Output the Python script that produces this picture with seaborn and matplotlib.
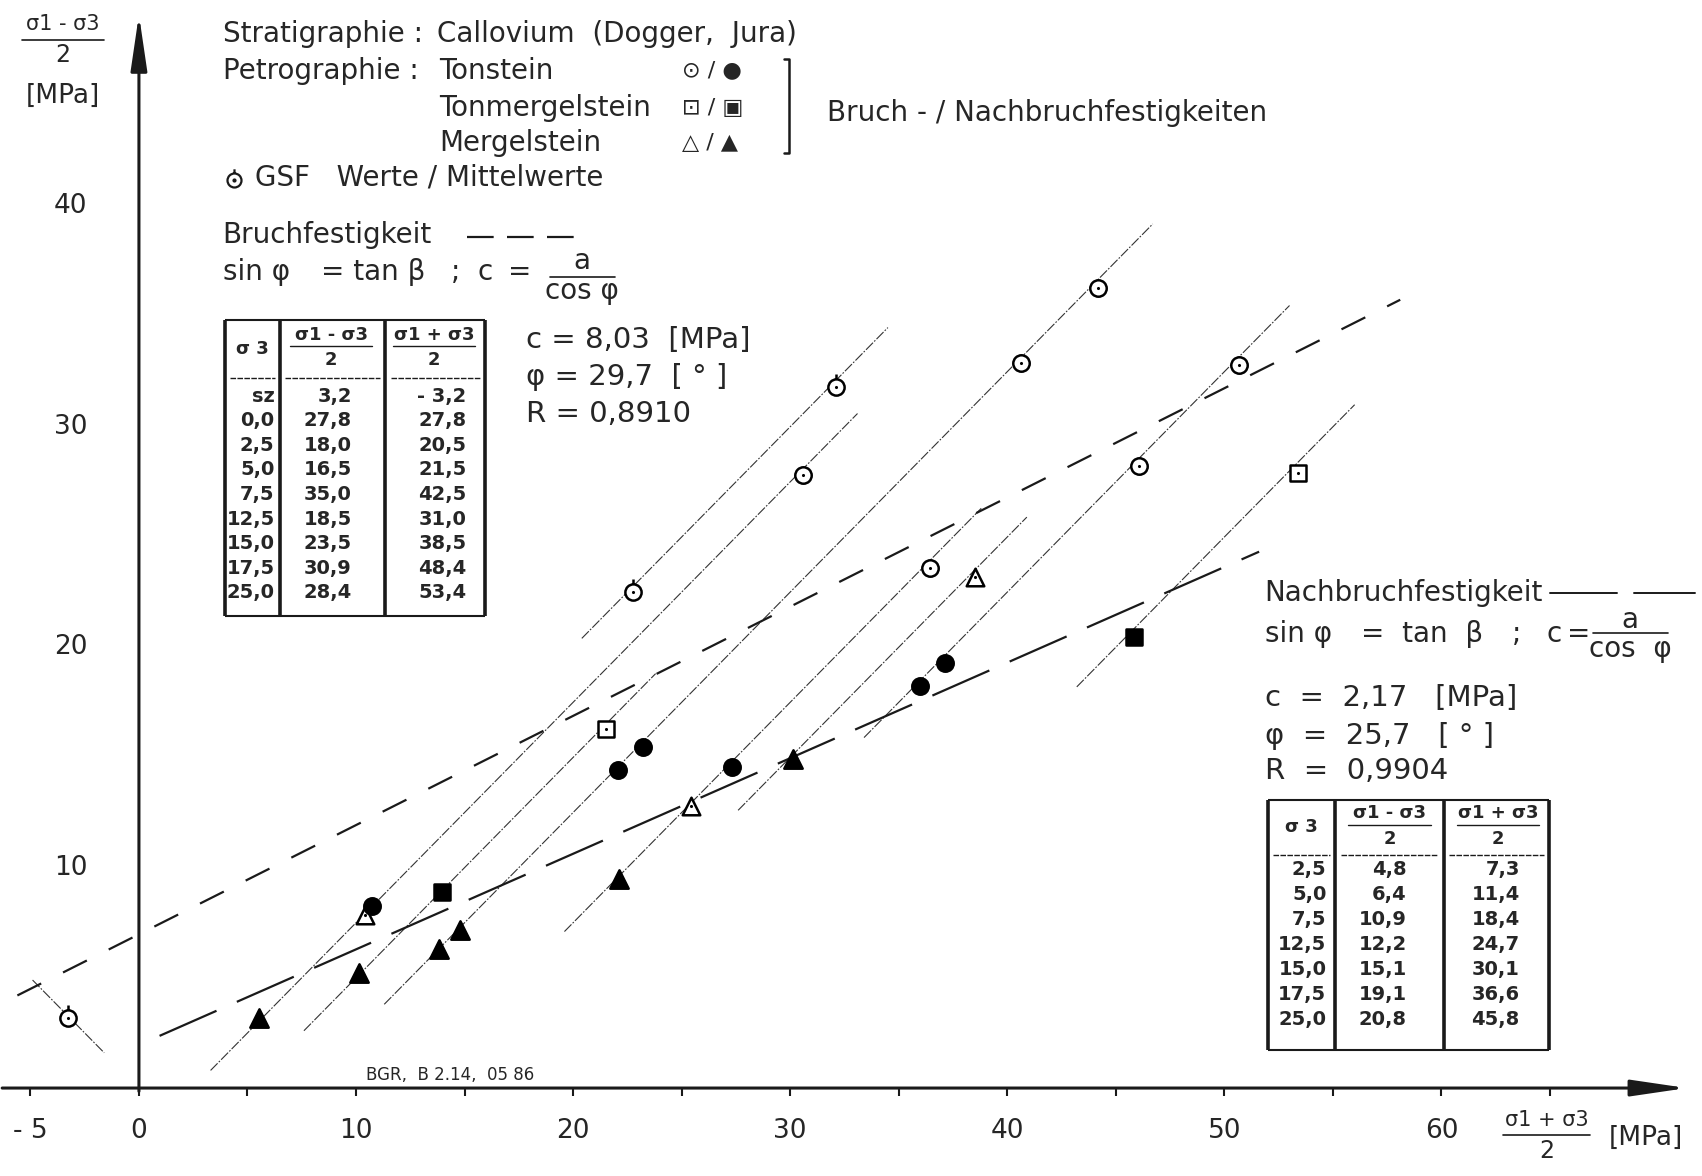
import numpy as np
import pandas as pd
import matplotlib
matplotlib.use('Agg')
import matplotlib.pyplot as plt
import seaborn as sns
from matplotlib.path import Path

# Messpunkte ((s1+s3)/2 , (s1-s3)/2)
ton_bruch_x = [30.6, 36.45, 40.65, 44.2, 46.05, 50.65]
ton_bruch_y = [27.8, 23.6, 32.9, 36.3, 28.2, 32.8]
gsf_x = [-3.25, 22.75, 32.1]
gsf_y = [3.2, 22.5, 31.8]
tmg_bruch_x = [21.5, 53.4]
tmg_bruch_y = [16.3, 27.9]
mg_bruch_x = [10.4, 25.45, 38.5]
mg_bruch_y = [7.85, 12.8, 23.2]
ton_nach_x = [10.75, 22.05, 23.2, 27.3, 36.0, 37.15]
ton_nach_y = [8.25, 14.45, 15.45, 14.55, 18.25, 19.3]
tmg_nach_x = [13.95, 45.85]
tmg_nach_y = [8.9, 20.45]
mg_nach_x = [5.55, 10.15, 13.8, 14.8, 22.1, 30.15]
mg_nach_y = [3.2, 5.2, 6.3, 7.15, 9.5, 14.95]

# sigma3 = konst. Linien (Steigung 1) und ihre Ausdehnung
sigma3_lines = [0.0, 2.5, 5.0, 7.5, 12.5, 15.0, 17.5, 25.0]
line_x_start = [20.4, 3.3, 7.6, 11.3, 19.6, 27.6, 33.4, 43.2]
line_x_end = [34.5, 33.1, 23.8, 46.7, 38.8, 40.9, 53.0, 56.0]
sz_x = [-4.9, -1.6]

# Ausgleichsgeraden
bruch_c, bruch_phi, bruch_R = 8.03, 29.7, 0.8910
bruch_xrange = [-5.6, 58.1]
nach_c, nach_phi, nach_R = 2.17, 25.7, 0.9904
nach_xrange = [0.95, 51.6]

# Tabellen
t1_s3 = ['sz', '0,0', '2,5', '5,0', '7,5', '12,5', '15,0', '17,5', '25,0']
t1_diff = [3.2, 27.8, 18.0, 16.5, 35.0, 18.5, 23.5, 30.9, 28.4]
t1_sum = [-3.2, 27.8, 20.5, 21.5, 42.5, 31.0, 38.5, 48.4, 53.4]
t2_s3 = ['2,5', '5,0', '7,5', '12,5', '15,0', '17,5', '25,0']
t2_diff = [4.8, 6.4, 10.9, 12.2, 15.1, 19.1, 20.8]
t2_sum = [7.3, 11.4, 18.4, 24.7, 30.1, 36.6, 45.8]

x_ticks = [-5, 0, 10, 20, 30, 40, 50, 60]
y_ticks = [10, 20, 30, 40]

sns.set_theme(style='white')
plt.rcParams['font.family'] = ['DejaVu Sans']


def de(v):
    return f'{v:.1f}'.replace('.', ',').replace('-', '- ')


fig = plt.figure(figsize=(17.02, 11.76), dpi=100)
ax = fig.add_axes([0, 0, 1, 1])
ax.set_xlim(-6.4, 72.0)
ax.set_ylim(-3.99, 49.36)
ax.axis('off')

# Achsen
arr = dict(arrowstyle='-|>,head_length=1.7,head_width=0.25', lw=2.2, color='k',
           mutation_scale=20, shrinkA=0, shrinkB=0)
ax.annotate('', xy=(71.3, 0), xytext=(-6.3, 0), arrowprops=arr)
ax.annotate('', xy=(0, 48.7), xytext=(0, -0.15), arrowprops=arr)
ax.vlines(np.arange(-5, 70, 5), -0.35, 0, color='k', lw=1.5)
for t in x_ticks:
    ax.text(t, -1.95, str(t).replace('-', '- '), ha='center', va='center', fontsize=19)
for t in y_ticks:
    ax.text(-3.15, t, str(t), ha='center', va='center', fontsize=19)

# Achsenbeschriftungen
ax.text(-3.5, 48.25, 'σ1 - σ3', ha='center', va='center', fontsize=15)
ax.plot([-5.4, -1.6], [47.55, 47.55], color='k', lw=1.2)
ax.text(-3.5, 46.85, '2', ha='center', va='center', fontsize=17)
ax.text(-3.5, 45.0, '[MPa]', ha='center', va='center', fontsize=19)
ax.text(64.85, -1.45, 'σ1 + σ3', ha='center', va='center', fontsize=15)
ax.plot([62.85, 66.85], [-2.12, -2.12], color='k', lw=1.2)
ax.text(64.85, -2.85, '2', ha='center', va='center', fontsize=17)
ax.text(69.4, -2.25, '[MPa]', ha='center', va='center', fontsize=19)

# sigma3-Linien
fine = dict(color='#333333', lw=0.8, dashes=(9, 1.5, 1.5, 1.5))
for s3, xa, xb in zip(sigma3_lines, line_x_start, line_x_end):
    xs = np.array([xa, xb])
    ax.plot(xs, xs - s3, **fine)
ax.plot(sz_x, [-v for v in sz_x], **fine)

# Bruch- und Nachbruchgerade
for c, phi, xr, dash in [(bruch_c, bruch_phi, bruch_xrange, (12, 11)),
                         (nach_c, nach_phi, nach_xrange, (28, 10))]:
    slope = np.sin(np.radians(phi))
    a = c * np.cos(np.radians(phi))
    xs = np.array(xr)
    ax.plot(xs, a + slope * xs, color='k', lw=1.6, dashes=dash)

# Punkte
gsf_marker = Path.make_compound_path(Path.unit_circle(),
                                     Path([(0, 1), (0, 1.6)], [Path.MOVETO, Path.LINETO]))
groups = [
    (ton_bruch_x, ton_bruch_y, 'o', 'white', 140, True),
    (gsf_x, gsf_y, gsf_marker, 'white', 350, True),
    (tmg_bruch_x, tmg_bruch_y, 's', 'white', 125, True),
    (mg_bruch_x, mg_bruch_y, '^', 'white', 160, True),
    (ton_nach_x, ton_nach_y, 'o', 'black', 140, False),
    (tmg_nach_x, tmg_nach_y, 's', 'black', 125, False),
    (mg_nach_x, mg_nach_y, '^', 'black', 175, False),
]
for gx, gy, m, fc, s, dot in groups:
    df = pd.DataFrame({'x': gx, 'y': gy})
    sns.scatterplot(data=df, x='x', y='y', marker=m, s=s, facecolor=fc,
                    edgecolor='black', linewidth=1.8, ax=ax, zorder=5, legend=False)
    if dot:
        sns.scatterplot(data=df, x='x', y='y', marker='o', s=5, color='black',
                        edgecolor='black', linewidth=0, ax=ax, zorder=6, legend=False)
ax.set_xlim(-6.4, 72.0)
ax.set_ylim(-3.99, 49.36)
ax.set_xlabel('')
ax.set_ylabel('')

# Legende / Kopf
fs = 20
ax.text(3.85, 47.8, 'Stratigraphie :', ha='left', va='center', fontsize=fs)
ax.text(13.75, 47.8, 'Callovium  (Dogger,  Jura)', ha='left', va='center', fontsize=fs)
ax.text(3.85, 46.16, 'Petrographie :', ha='left', va='center', fontsize=fs)
for yy, name, sym in [(46.16, 'Tonstein', '⊙ / ●'), (44.48, 'Tonmergelstein', '⊡ / ▣'),
                      (42.86, 'Mergelstein', '△ / ▲')]:
    ax.text(13.85, yy, name, ha='left', va='center', fontsize=fs)
    ax.text(25.0, yy, sym, ha='left', va='center', fontsize=16)
ax.plot([29.7, 29.95, 29.95, 29.7], [46.7, 46.7, 42.4, 42.4], color='k', lw=1.8)
ax.text(31.7, 44.24, 'Bruch - / Nachbruchfestigkeiten', ha='left', va='center', fontsize=fs)
ax.scatter([4.4], [41.2], marker=gsf_marker, s=260, facecolor='white', edgecolor='k', lw=1.6)
ax.scatter([4.4], [41.2], marker='o', s=4, color='k')
ax.text(5.35, 41.33, 'GSF   Werte / Mittelwerte', ha='left', va='center', fontsize=fs)

ax.text(3.85, 38.7, 'Bruchfestigkeit', ha='left', va='center', fontsize=fs)
ax.plot([15.1, 20.2], [38.6, 38.6], color='k', lw=1.6, dashes=(12, 6))
ax.text(3.85, 37.0, 'sin φ', ha='left', va='center', fontsize=fs)
ax.text(8.4, 37.0, '= tan β', ha='left', va='center', fontsize=fs)
ax.text(14.6, 37.0, ';', ha='center', va='center', fontsize=fs)
ax.text(15.95, 37.0, 'c', ha='center', va='center', fontsize=fs)
ax.text(17.55, 37.0, '=', ha='center', va='center', fontsize=fs)
ax.text(20.4, 37.5, 'a', ha='center', va='center', fontsize=fs)
ax.plot([18.95, 21.95], [36.8, 36.8], color='k', lw=1.2)
ax.text(20.4, 36.15, 'cos φ', ha='center', va='center', fontsize=fs)

ax.text(17.85, 33.94, f'c = {bruch_c:.2f}  [MPa]'.replace('.', ','), ha='left', va='center', fontsize=21)
ax.text(17.85, 32.27, f'φ = {bruch_phi:.1f}  [ ° ]'.replace('.', ','), ha='left', va='center', fontsize=21)
ax.text(17.85, 30.59, f'R = {bruch_R:.4f}'.replace('.', ','), ha='left', va='center', fontsize=21)

ax.text(51.85, 22.46, 'Nachbruchfestigkeit', ha='left', va='center', fontsize=fs)
ax.plot([65.0, 68.1], [22.46, 22.46], color='k', lw=1.4)
ax.plot([68.85, 71.7], [22.46, 22.46], color='k', lw=1.4)
ax.text(51.85, 20.6, 'sin φ', ha='left', va='center', fontsize=fs)
ax.text(56.3, 20.6, '=  tan  β', ha='left', va='center', fontsize=fs)
ax.text(63.45, 20.6, ';', ha='center', va='center', fontsize=fs)
ax.text(65.2, 20.6, 'c', ha='center', va='center', fontsize=fs)
ax.text(66.3, 20.6, '=', ha='center', va='center', fontsize=fs)
ax.text(68.7, 21.25, 'a', ha='center', va='center', fontsize=fs)
ax.plot([67.0, 70.45], [20.64, 20.64], color='k', lw=1.2)
ax.text(68.7, 19.9, 'cos  φ', ha='center', va='center', fontsize=fs)
ax.text(51.85, 17.68, f'c  =  {nach_c:.2f}   [MPa]'.replace('.', ','), ha='left', va='center', fontsize=21)
ax.text(51.85, 15.96, f'φ  =  {nach_phi:.1f}   [ ° ]'.replace('.', ','), ha='left', va='center', fontsize=21)
ax.text(51.85, 14.38, f'R  =  {nach_R:.4f}'.replace('.', ','), ha='left', va='center', fontsize=21)

ax.text(10.45, 0.6, 'BGR,  B 2.14,  05 86', ha='left', va='center', fontsize=12)


# Tabellen
def table(left, d1, d2, right, top, bottom, hline, row0, step, r1, r2, r3,
          c1, c2, c3, s3, diff, summ):
    ax.vlines([left, d1, d2, right], bottom, top, color='k', lw=2.6)
    ax.hlines([top, bottom], left, right, color='k', lw=1.5)
    for a, b in [(left, d1), (d1, d2), (d2, right)]:
        ax.plot([a + 0.25, b - 0.25], [hline, hline], color='k', lw=1.0, dashes=(4, 1))
    hy = (top + hline) / 2
    ax.text((left + d1) / 2, hy, 'σ 3', ha='center', va='center', fontsize=13, fontweight='bold')
    for cx, lab in [(c2, 'σ1 - σ3'), (c3, 'σ1 + σ3')]:
        ax.text(cx, hy + 0.65, lab, ha='center', va='center', fontsize=13, fontweight='bold')
        ax.plot([cx - 1.9, cx + 1.9], [hy + 0.12, hy + 0.12], color='k', lw=1.0)
        ax.text(cx, hy - 0.5, '2', ha='center', va='center', fontsize=13, fontweight='bold')
    for i, (a, b, c) in enumerate(zip(s3, diff, summ)):
        yy = row0 - i * step
        ax.text(r1, yy, a, ha='right', va='center', fontsize=14, fontweight='bold')
        ax.text(r2, yy, de(b), ha='right', va='center', fontsize=14, fontweight='bold')
        ax.text(r3, yy, de(c), ha='right', va='center', fontsize=14, fontweight='bold')


table(3.95, 6.5, 11.35, 15.95, 34.83, 21.43, 32.22, 31.38, 1.113,
      6.25, 9.8, 15.1, 5.2, 8.85, 13.6, t1_s3, t1_diff, t1_sum)
table(52.0, 55.1, 60.1, 64.95, 13.05, 1.72, 10.59, 9.9, 1.133,
      54.7, 58.4, 63.6, 53.45, 57.6, 62.6, t2_s3, t2_diff, t2_sum)

fig.savefig('out.png', dpi=100)
